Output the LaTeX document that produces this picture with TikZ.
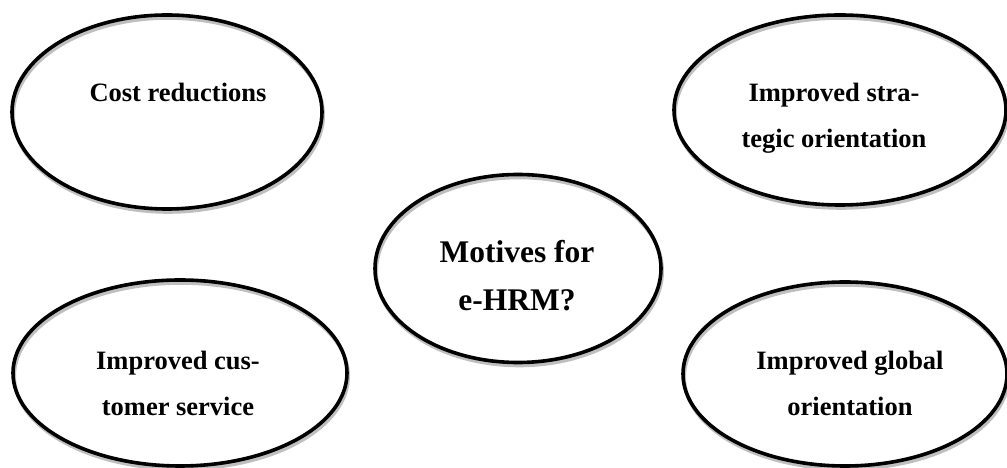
\documentclass[tikz,border=0pt]{standalone}
\usepackage{fontspec}
\setmainfont{Liberation Serif}
\usetikzlibrary{shapes.geometric}
\begin{document}
\begin{tikzpicture}[x=1pt,y=1pt,
  bubbleshadow/.style={draw=black!25, line width=3.6pt},
  bubble/.style={draw=black, line width=3.6pt},
  lbl/.style={align=center, font=\bfseries\fontsize{26.5}{46}\selectfont},
  biglbl/.style={align=center, font=\bfseries\fontsize{31.5}{48}\selectfont},
]
\useasboundingbox (0,0) rectangle (1007,468);
% ellipses with soft shadow
\path[bubbleshadow] (168.2,353) ellipse [x radius=155, y radius=97];
\path[bubble] (167,356) ellipse [x radius=155, y radius=97];
\path[bubbleshadow] (841.2,355) ellipse [x radius=166, y radius=95];
\path[bubble] (840,358) ellipse [x radius=166, y radius=95];
\path[bubbleshadow] (519.2,196.5) ellipse [x radius=143, y radius=94];
\path[bubble] (518,199.5) ellipse [x radius=143, y radius=94];
\path[bubbleshadow] (181.2,92) ellipse [x radius=167, y radius=93];
\path[bubble] (180,95) ellipse [x radius=167, y radius=93];
\path[bubbleshadow] (846.2,91) ellipse [x radius=162, y radius=92];
\path[bubble] (845,94) ellipse [x radius=162, y radius=92];
% labels
\node[lbl, anchor=base] (tl) at (178,366) {Cost reductions};
\node[lbl] (tr) at (834,349.6) {Improved stra-\\tegic orientation};
\node[biglbl] (c) at (517,192.5) {Motives for\\e-HRM?};
\node[lbl] (bl) at (178,85) {Improved cus-\\tomer service};
\node[lbl] (br) at (850,84.5) {Improved global\\orientation};
\end{tikzpicture}
\end{document}
